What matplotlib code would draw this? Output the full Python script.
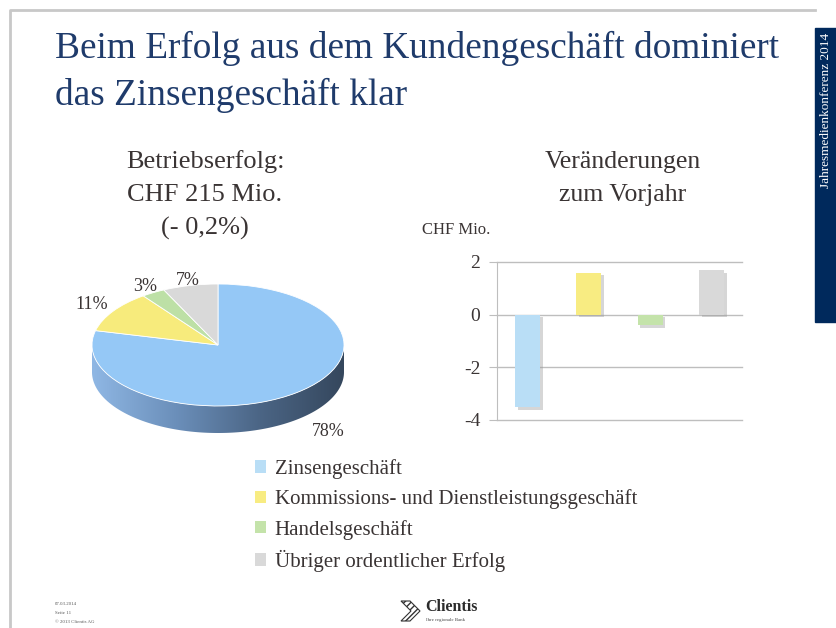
import numpy as np
import matplotlib

matplotlib.use("Agg")

import matplotlib.pyplot as plt  # noqa: E402
from matplotlib.patches import Polygon, Patch  # noqa: E402
from matplotlib.colors import LinearSegmentedColormap  # noqa: E402
import matplotlib.patheffects as pe  # noqa: E402

plt.rcParams["axes.unicode_minus"] = False

# --- data -----------------------------------------------------------------
categories = [
    "Zinsengeschäft",
    "Kommissions- und Dienstleistungsgeschäft",
    "Handelsgeschäft",
    "Übriger ordentlicher Erfolg",
]
shares = [78, 11, 3, 7]            # Anteil am Betriebserfolg in %
changes = [-3.5, 1.6, -0.4, 1.7]   # Veränderung zum Vorjahr, CHF Mio.
bar_ticks = [2, 0, -2, -4]

pie_colors = ["#95C8F6", "#F7EB7C", "#BDE0A6", "#D9D9D9"]
bar_colors = ["#B9DEF6", "#F8EC82", "#C4E3AA", "#D9D9D9"]

SERIF = "Liberation Serif"
NAVY = "#1F3B6B"
DARK = "#3A3434"

W, H = 836, 628
fig = plt.figure(figsize=(W / 100, H / 100), dpi=100)

# background layer in pixel coordinates for frame, titles, footer
bg = fig.add_axes([0, 0, 1, 1])
bg.set_xlim(0, W)
bg.set_ylim(H, 0)
bg.axis("off")

bg.plot([10, 10, 815], [H, 10, 10], color="#C8C8C8", lw=2)
bg.add_patch(plt.Rectangle((815, 28), 21, 294, color="#00295C"))
bg.text(826, 33, "Jahresmedienkonferenz 2014", rotation=90, ha="center",
        va="top", color="white", fontsize=9.5, family=SERIF)

bg.text(55, 48, "Beim Erfolg aus dem Kundengeschäft dominiert", fontsize=26.8,
        family=SERIF, color=NAVY, va="center")
bg.text(55, 95, "das Zinsengeschäft klar", fontsize=26.8, family=SERIF,
        color=NAVY, va="center")

for i, line in enumerate(["Betriebserfolg:", "CHF 215 Mio.", "(- 0,2%)"]):
    bg.text(205, 162 + 33 * i, line, fontsize=19, family=SERIF, color=DARK,
            ha="center", va="center")
for i, line in enumerate(["Veränderungen", "zum Vorjahr"]):
    bg.text(623, 162 + 33 * i, line, fontsize=18.5, family=SERIF, color=DARK,
            ha="center", va="center")
bg.text(422, 230, "CHF Mio.", fontsize=12, family=SERIF, color=DARK,
        va="center")

# footer
for i, line in enumerate(["07.03.2014", "Seite 11", "© 2013 Clientis AG"]):
    bg.text(55, 604 + 9 * i, line, fontsize=3.5, family=SERIF, color="#555555",
            va="center")
bg.add_patch(Polygon([(401, 601), (410, 601), (420, 611), (410, 621),
                      (401, 621), (411, 611)], closed=True, facecolor="white",
                     edgecolor="#333333", hatch="/////", lw=0.8))
bg.text(425, 607, "Clientis", fontsize=11.5, family=SERIF, color="#2B2B2B",
        va="center", fontweight="bold")
bg.text(426, 620, "Ihre regionale Bank", fontsize=3.5, family=SERIF,
        color="#444444", va="center")

# --- 3D-ish pie -------------------------------------------------------------
cx, cy, rx, ry = 218, 345, 126, 61
left, right, top, bottom = 60, 376, 250, 455
pax = fig.add_axes([left / W, (H - bottom) / H, (right - left) / W,
                    (bottom - top) / H])
pax.patch.set_alpha(0)
wedges, _ = pax.pie(shares, colors=pie_colors, startangle=90,
                    counterclock=False,
                    wedgeprops=dict(edgecolor="white", linewidth=0.6))
depth = 27 / ry
theta = np.radians(np.linspace(180, 360, 200))
upper = np.column_stack([np.cos(theta), np.sin(theta)])
lower = np.column_stack([np.cos(theta[::-1]), np.sin(theta[::-1]) - depth])
band = Polygon(np.vstack([upper, lower]), closed=True, facecolor="none",
               edgecolor="none", transform=pax.transData)
pax.add_patch(band)
side_cmap = LinearSegmentedColormap.from_list(
    "side", ["#8FB7E4", "#6B8FBA", "#4B6585", "#35475D"])
grad = np.linspace(0, 1, 256).reshape(1, -1)
im = pax.imshow(grad, cmap=side_cmap, extent=(-1, 1, -1 - depth, 0),
                aspect="auto", zorder=0.5)
im.set_clip_path(band)

pax.set_aspect("auto")
pax.set_xlim((left - cx) / rx, (right - cx) / rx)
pax.set_ylim((cy - bottom) / ry, (cy - top) / ry)
pax.axis("off")

label_r = [1.42, 1.2, 1.12, 1.08]
for w, s, r in zip(wedges, shares, label_r):
    mid = np.radians((w.theta1 + w.theta2) / 2)
    x, y = r * np.cos(mid), r * np.sin(mid)
    if y < 0:
        y -= depth * 0.7
    pax.text(x, y, f"{s}%", fontsize=13, family=SERIF, color=DARK,
             ha="center", va="center")

# --- bar chart --------------------------------------------------------------
bx = fig.add_axes([497 / W, (H - 420) / H, 245 / W, 158 / H])
bx.patch.set_alpha(0)
shadow = [pe.SimplePatchShadow(offset=(2, -2), shadow_rgbFace="#999999",
                               alpha=0.4), pe.Normal()]
bx.bar(range(len(changes)), changes, width=0.41, color=bar_colors,
       path_effects=shadow, zorder=3)
bx.set_xlim(-0.5, len(changes) - 0.5)
bx.set_ylim(min(bar_ticks), max(bar_ticks))
bx.set_yticks(bar_ticks)
bx.set_xticks([])
bx.yaxis.grid(True, color="#BEBEBE", lw=1)
for gl in bx.get_ygridlines():
    gl.set_clip_on(False)
bx.set_axisbelow(True)
for side in ["top", "right", "bottom"]:
    bx.spines[side].set_visible(False)
bx.spines["left"].set_color("#BEBEBE")
bx.tick_params(axis="y", length=6, color="#BEBEBE", labelsize=14,
               labelcolor=DARK, pad=6)
for t in bx.get_yticklabels():
    t.set_family(SERIF)

# --- legend -----------------------------------------------------------------
handles = [Patch(facecolor=c, edgecolor="none") for c in bar_colors]
leg = fig.legend(handles, categories, loc="upper left",
                 bbox_to_anchor=(255 / W, 1 - 459 / H), frameon=False,
                 prop=dict(family=SERIF, size=15), labelcolor=DARK,
                 handlelength=0.55, handleheight=0.55, handletextpad=0.4,
                 labelspacing=0.5, borderpad=0, borderaxespad=0)

fig.savefig("out.png", dpi=100)
